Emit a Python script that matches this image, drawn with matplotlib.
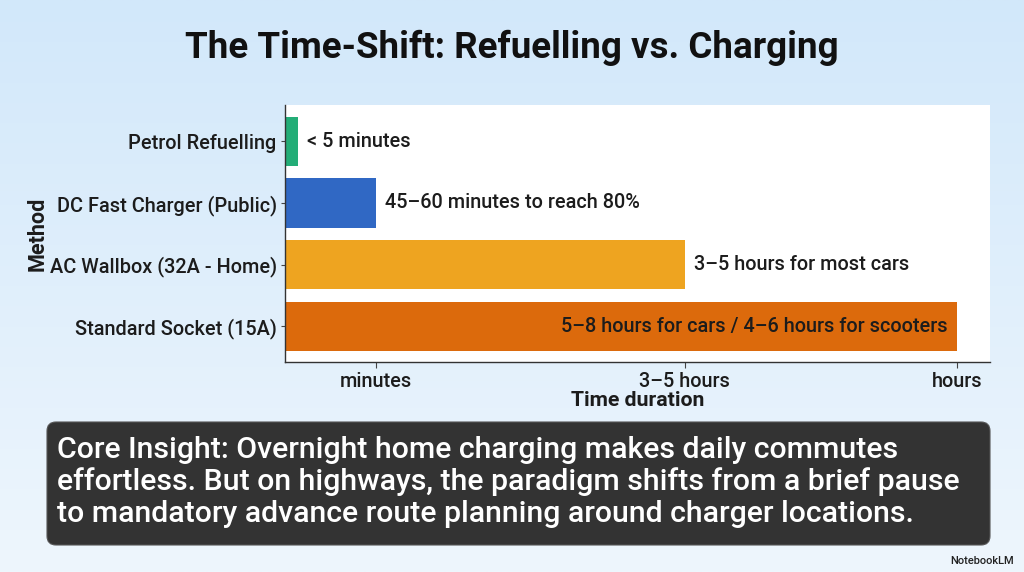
import numpy as np
import matplotlib
matplotlib.use("Agg")
import matplotlib.pyplot as plt
from matplotlib.patches import FancyBboxPatch
import matplotlib.transforms as mtransforms

# ---- data ----
methods = ["Petrol Refuelling", "DC Fast Charger (Public)",
           "AC Wallbox (32A - Home)", "Standard Socket (15A)"]
durations = [0.14, 1.0, 4.4, 7.4]          # relative time scale (illustrative)
bar_labels = ["< 5 minutes", "45\u201360 minutes to reach 80%",
              "3\u20135 hours for most cars",
              "5\u20138 hours for cars / 4\u20136 hours for scooters"]
bar_colors = ["#23ad77", "#3068c4", "#eea420", "#dc6a0c"]
xtick_pos = [1.0, 4.4, 7.4]
xtick_labels = ["minutes", "3\u20135 hours", "hours"]
title = "The Time-Shift: Refuelling vs. Charging"
insight = ("Core Insight: Overnight home charging makes daily commutes\n"
           "effortless. But on highways, the paradigm shifts from a brief pause\n"
           "to mandatory advance route planning around charger locations.")

plt.rcParams['font.family'] = ['Roboto', 'DejaVu Sans']
TXT = "#1c1c1c"
FS = 14.3

fig = plt.figure(figsize=(10.24, 5.72), dpi=100)

# background gradient (pixel coordinates)
bg = fig.add_axes([0, 0, 1, 1], zorder=-10)
grad = np.linspace(0, 1, 256).reshape(-1, 1)
top = np.array([210, 232, 250]) / 255
bot = np.array([238, 246, 253]) / 255
img = top + (bot - top) * grad[..., None]
img = np.repeat(img, 2, axis=1)
bg.imshow(img, extent=[0, 1024, 572, 0], aspect='auto')
bg.set_xlim(0, 1024)
bg.set_ylim(572, 0)
bg.axis('off')

# title
bg.text(512, 48, title, ha='center', va='center', fontsize=26.5,
        fontweight='bold', color='#111111')

# insight box
box = FancyBboxPatch((47, 422), 943, 123,
                     boxstyle="round,pad=0,rounding_size=9",
                     facecolor="#333333", edgecolor="#555555", linewidth=0.8)
bg.add_patch(box)
bg.text(57, 482, insight, ha='left', va='center', fontsize=21.8,
        color='white', linespacing=1.16, fontweight='medium')

# NotebookLM mark
bg.text(1014, 561, "NotebookLM", ha='right', va='center', fontsize=8,
        fontweight='medium', color='#222222')

# chart axes
ax = fig.add_axes([285 / 1024, 1 - 362 / 572, 705 / 1024, 257 / 572])
ax.set_facecolor('white')
y = np.arange(len(methods))
ax.barh(y, durations, height=0.8, color=bar_colors)
ax.set_ylim(3.58, -0.59)
ax.set_xlim(0, 7.76)
ax.set_yticks(y)
ax.set_yticklabels(methods, fontsize=FS, fontweight='medium', color=TXT)
ax.set_xticks(xtick_pos)
ax.set_xticklabels(xtick_labels, fontsize=FS, fontweight='medium', color=TXT)
ax.tick_params(axis='y', length=3, width=0.8, color='#444444', pad=3)
ax.tick_params(axis='x', length=4, width=0.8, color='#444444', pad=3)
for s in ['top', 'right']:
    ax.spines[s].set_visible(False)
for s in ['left', 'bottom']:
    ax.spines[s].set_color('#333333')
    ax.spines[s].set_linewidth(1.0)
ax.set_ylabel("Method", fontsize=15.5, fontweight='bold', color=TXT, labelpad=1)
ax.set_xlabel("Time duration", fontsize=15.3, fontweight='bold', color=TXT, labelpad=0)

right_off = mtransforms.offset_copy(ax.transData, fig=fig, x=9, y=0, units='dots')
left_off = mtransforms.offset_copy(ax.transData, fig=fig, x=-10, y=0, units='dots')
for i, (v, lab) in enumerate(zip(durations, bar_labels)):
    if i == len(durations) - 1:
        ax.text(v, i, lab, ha='right', va='center', fontsize=FS,
                fontweight='medium', color=TXT, transform=left_off)
    else:
        ax.text(v, i, lab, ha='left', va='center', fontsize=FS,
                fontweight='medium', color=TXT, transform=right_off)

fig.savefig("out.png", dpi=100)
